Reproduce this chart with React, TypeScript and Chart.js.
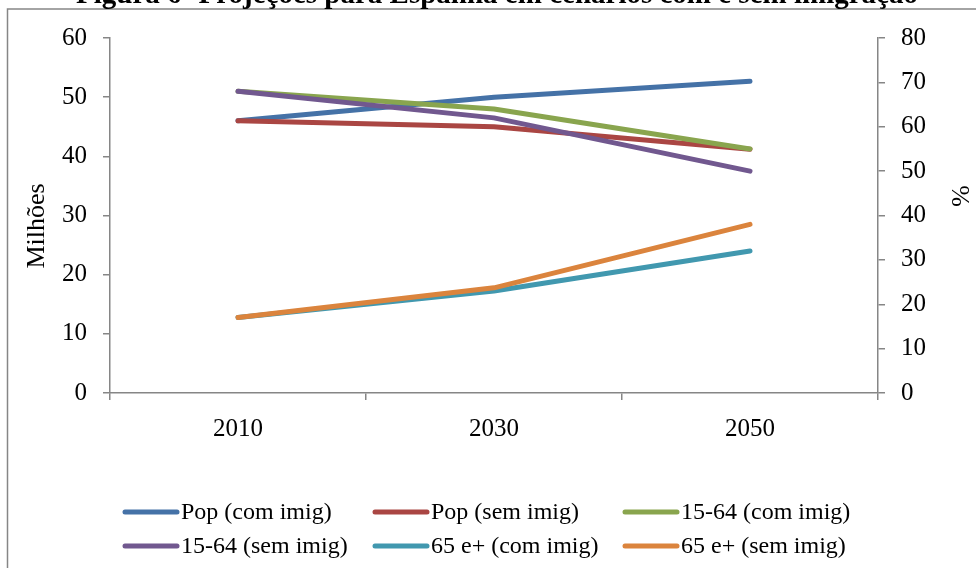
import { useEffect, useRef } from "react";
import { Chart, registerables } from "chart.js";

Chart.register(...registerables);

// Projections for Spain, with and without immigration
const years = ["2010", "2030", "2050"];
const popComImig = [46, 50, 52.7];
const popSemImig = [46, 45, 41.2];
const idade1564ComImig = [68, 64, 55];
const idade1564SemImig = [68, 62, 50];
const idade65ComImig = [17, 23, 32];
const idade65SemImig = [17, 23.7, 38];

const seriesLabels = [
  "Pop (com imig)",
  "Pop (sem imig)",
  "15-64 (com imig)",
  "15-64 (sem imig)",
  "65 e+ (com imig)",
  "65 e+ (sem imig)",
];
const seriesColors = ["#4572A7", "#AA4643", "#89A54E", "#71588F", "#4198AF", "#DB843D"];

const milhoesTicks = [0, 10, 20, 30, 40, 50, 60];
const percentTicks = [0, 10, 20, 30, 40, 50, 60, 70, 80];

const titleText = "Figura 6- Projeções para Espanha em cenários com e sem imigração";
const leftAxisTitle = "Milhões";
const rightAxisTitle = "%";

const FONT = '"Liberation Serif", "Times New Roman", serif';
const AXIS_GRAY = "#868686";
const LINE_WIDTH = 5;

const framePlugin = {
  id: "frameAndTitle",
  beforeDraw(chart: any) {
    const ctx = chart.ctx;
    ctx.save();
    ctx.fillStyle = "#ffffff";
    ctx.fillRect(0, 0, chart.width, chart.height);
    ctx.strokeStyle = AXIS_GRAY;
    ctx.lineWidth = 1.5;
    ctx.beginPath();
    ctx.moveTo(7.5, chart.height + 5);
    ctx.lineTo(7.5, 9);
    ctx.lineTo(chart.width + 5, 9);
    ctx.stroke();
    ctx.restore();
  },
  afterDraw(chart: any) {
    const ctx = chart.ctx;
    const area = chart.chartArea;
    ctx.save();
    ctx.fillStyle = "#000000";
    ctx.textAlign = "center";
    ctx.textBaseline = "alphabetic";
    ctx.font = `bold 29px ${FONT}`;
    ctx.fillText(titleText, 497, 3);

    // axis titles, rotated alongside each value axis
    ctx.textBaseline = "middle";
    ctx.font = `26px ${FONT}`;
    ctx.save();
    ctx.translate(37, area.top + 188);
    ctx.rotate(-Math.PI / 2);
    ctx.fillText(leftAxisTitle, 0, 0);
    ctx.restore();
    ctx.save();
    ctx.translate(959, area.top + 158);
    ctx.rotate(Math.PI / 2);
    ctx.fillText(rightAxisTitle, 0, 0);
    ctx.restore();
    ctx.restore();
  },
};

const gridLegendPlugin = {
  id: "gridLegend",
  afterDraw(chart: any) {
    const ctx = chart.ctx;
    const area = chart.chartArea;
    ctx.save();
    ctx.font = `24px ${FONT}`;
    ctx.textBaseline = "middle";
    ctx.textAlign = "left";
    chart.data.datasets.forEach((ds: any, i: number) => {
      const col = i % 3;
      const row = Math.floor(i / 3);
      const x = area.left + 13 + col * 250;
      const y = 512 + row * 34;
      ctx.strokeStyle = ds.borderColor;
      ctx.lineWidth = LINE_WIDTH;
      ctx.lineCap = "round";
      ctx.beginPath();
      ctx.moveTo(x + 2, y);
      ctx.lineTo(x + 54, y);
      ctx.stroke();
      ctx.fillStyle = "#000000";
      ctx.fillText(ds.label, x + 58, y + 1);
    });
    ctx.restore();
  },
};

export default function App() {
  const canvasRef = useRef<HTMLCanvasElement | null>(null);

  useEffect(() => {
    if (!canvasRef.current) return;
    const values = [
      popComImig,
      popSemImig,
      idade1564ComImig,
      idade1564SemImig,
      idade65ComImig,
      idade65SemImig,
    ];
    const axisIds = ["y", "y", "y1", "y1", "y1", "y1"];
    const datasets = values.map((data, i) => ({
      label: seriesLabels[i],
      data,
      yAxisID: axisIds[i],
      borderColor: seriesColors[i],
      backgroundColor: seriesColors[i],
      borderWidth: LINE_WIDTH,
      borderCapStyle: "round" as const,
      borderJoinStyle: "round" as const,
      pointRadius: 0,
      tension: 0,
      order: values.length - i,
    }));

    const tickFont = { family: FONT, size: 25 };

    const chart = new Chart(canvasRef.current, {
      type: "line",
      data: { labels: years, datasets },
      options: {
        animation: false,
        responsive: false,
        maintainAspectRatio: false,
        layout: { padding: { top: 38, left: 0, right: 0, bottom: 0 } },
        plugins: {
          legend: { display: false },
          tooltip: { enabled: false },
          title: { display: false },
        },
        scales: {
          x: {
            type: "category",
            offset: true,
            grid: {
              offset: true,
              drawOnChartArea: false,
              tickLength: 7,
              color: AXIS_GRAY,
              lineWidth: 1.5,
            },
            border: { color: AXIS_GRAY, width: 1.5 },
            ticks: { font: tickFont, color: "#000000", padding: 14, maxRotation: 0 },
            afterFit(scale: any) {
              scale.height = 175;
            },
          },
          y: {
            position: "left",
            min: milhoesTicks[0],
            max: milhoesTicks[milhoesTicks.length - 1],
            ticks: {
              stepSize: milhoesTicks[1] - milhoesTicks[0],
              font: tickFont,
              color: "#000000",
              padding: 16,
            },
            grid: {
              drawOnChartArea: false,
              tickLength: 7,
              color: AXIS_GRAY,
              lineWidth: 1.5,
            },
            border: { color: AXIS_GRAY, width: 1.5 },
            afterFit(scale: any) {
              scale.width = 110;
            },
          },
          y1: {
            position: "right",
            min: percentTicks[0],
            max: percentTicks[percentTicks.length - 1],
            ticks: {
              stepSize: percentTicks[1] - percentTicks[0],
              font: tickFont,
              color: "#000000",
              padding: 16,
            },
            grid: {
              drawOnChartArea: false,
              tickLength: 7,
              color: AXIS_GRAY,
              lineWidth: 1.5,
            },
            border: { color: AXIS_GRAY, width: 1.5 },
            afterFit(scale: any) {
              scale.width = 98;
            },
          },
        },
      },
      plugins: [framePlugin, gridLegendPlugin],
    });

    return () => chart.destroy();
  }, []);

  return (
    <div
      style={{
        position: "absolute",
        left: 0,
        top: 0,
        width: 976,
        height: 568,
        overflow: "hidden",
        background: "#ffffff",
      }}
    >
      <canvas ref={canvasRef} width={976} height={568} style={{ display: "block" }} />
    </div>
  );
}
